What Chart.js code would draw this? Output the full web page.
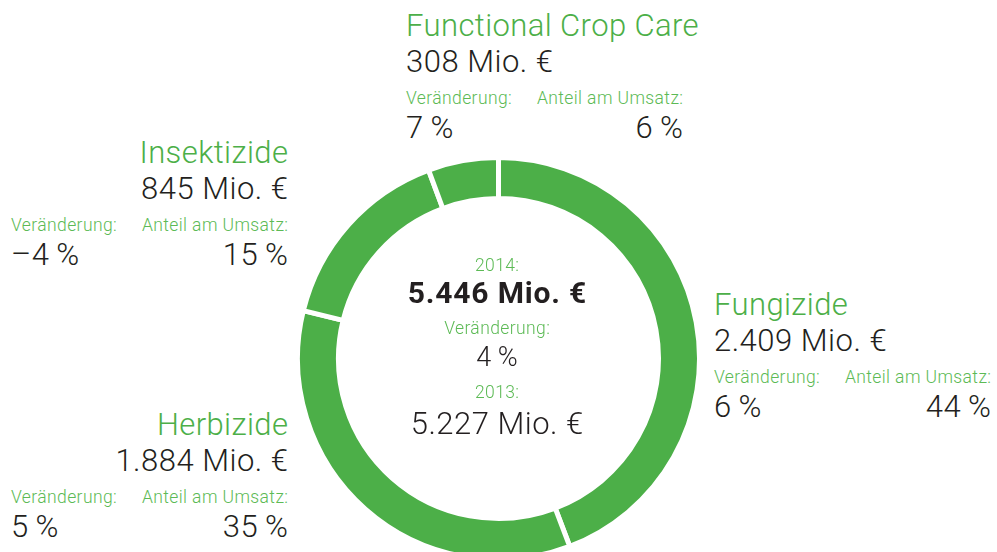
<!DOCTYPE html>
<html lang="de">
<head>
<meta charset="utf-8">
<script src="https://cdn.jsdelivr.net/npm/chart.js@4/dist/chart.umd.min.js"></script>
<style>
  html, body { margin: 0; padding: 0; background: #fff; overflow: hidden; }
  body { width: 997px; height: 552px; position: relative;
         font-family: Roboto, "Liberation Sans", sans-serif; font-weight: 300; color: #231f20; }
  #ring { position: absolute; left: 295px; top: 155px; width: 407px; height: 407px; }
  .t { position: absolute; white-space: nowrap; line-height: 1; }
  .mark { display: inline-block; width: 0; height: 0; vertical-align: baseline; }
</style>
</head>
<body>
<div id="ring"><canvas id="donut" width="407" height="407"></canvas></div>
<script>
(() => {
  // Umsatz nach Indikation, 2014 (Mio. €)
  const segments = ['Fungizide', 'Herbizide', 'Insektizide', 'Functional Crop Care'];
  const sales    = [2409, 1884, 845, 308];
  const change   = [6, 5, -4, 7];      // Veränderung in %
  const share    = [44, 35, 15, 6];    // Anteil am Umsatz in %

  const total2014   = 5446;
  const total2013   = 5227;
  const totalChange = 4;

  const GREEN = '#4caf48';
  const LABEL_GREEN = '#5cba55';
  const DARK = '#231f20';

  new Chart(document.getElementById('donut').getContext('2d'), {
    type: 'doughnut',
    data: {
      labels: segments,
      datasets: [{
        data: sales,
        backgroundColor: GREEN,
        borderColor: '#fff',
        borderWidth: 5,
        hoverOffset: 0,
      }],
    },
    options: {
      responsive: false, animation: false,
      cutout: 160,
      events: [],
      plugins: { legend: { display: false }, tooltip: { enabled: false } },
    },
  });

  const mio = n => String(n).replace(/\B(?=(\d{3})+(?!\d))/g, '.') + ' Mio. €';
  const pct = n => (n < 0 ? '\u2013' + Math.abs(n) : String(n)) + '\u2009%';

  // text styles: size, tracking, colour, weight
  const TITLE = { size: 31, ls: 0.4, color: GREEN };
  const VALUE = { size: 31, ls: 0.5 };
  const LABEL = { size: 17.5, ls: 0.4, color: LABEL_GREEN };

  // place a line of text with its baseline at y
  function put(text, x, y, style, align = 'left') {
    const el = document.createElement('div');
    el.className = 't';
    el.style.fontSize = style.size + 'px';
    el.style.letterSpacing = (style.ls || 0) + 'px';
    el.style.color = style.color || DARK;
    if (style.bold) el.style.fontWeight = 700;
    el.textContent = text;
    const m = document.createElement('span');
    m.className = 'mark';
    el.appendChild(m);
    document.body.appendChild(el);
    const base = m.getBoundingClientRect().top - el.getBoundingClientRect().top;
    const w = el.getBoundingClientRect().width - (style.ls || 0);
    el.style.left = (align === 'left' ? x : align === 'right' ? x - w : x - w / 2) + 'px';
    el.style.top = (y - base) + 'px';
  }

  // block anchors: x is the left edge (left) or right edge (right), y is the title baseline
  const blocks = [
    { x: 714, y: 315, align: 'left' },
    { x: 288, y: 435, align: 'right' },
    { x: 288, y: 163, align: 'right' },
    { x: 406, y: 36,  align: 'left' },
  ];
  const COL = 277;

  segments.forEach((name, i) => {
    const b = blocks[i];
    const left = b.align === 'left' ? b.x : b.x - COL;
    const right = left + COL;
    put(name, b.x, b.y, TITLE, b.align);
    put(mio(sales[i]), b.x, b.y + 36, VALUE, b.align);
    put('Veränderung:', left, b.y + 68, LABEL);
    put('Anteil am Umsatz:', right, b.y + 68, LABEL, 'right');
    put(pct(change[i]), left, b.y + 102, VALUE);
    put(pct(share[i]), right, b.y + 102, VALUE, 'right');
  });

  const cx = 497;
  put('2014:', cx, 271, LABEL, 'center');
  put(mio(total2014), cx, 303, { size: 30, ls: 0.8, bold: true }, 'center');
  put('Veränderung:', cx, 334, LABEL, 'center');
  put(pct(totalChange), cx, 366, { size: 27, ls: 0.4 }, 'center');
  put('2013:', cx, 398, LABEL, 'center');
  put(mio(total2013), cx, 434, { size: 31, ls: 0.5 }, 'center');
})();
</script>
</body>
</html>
